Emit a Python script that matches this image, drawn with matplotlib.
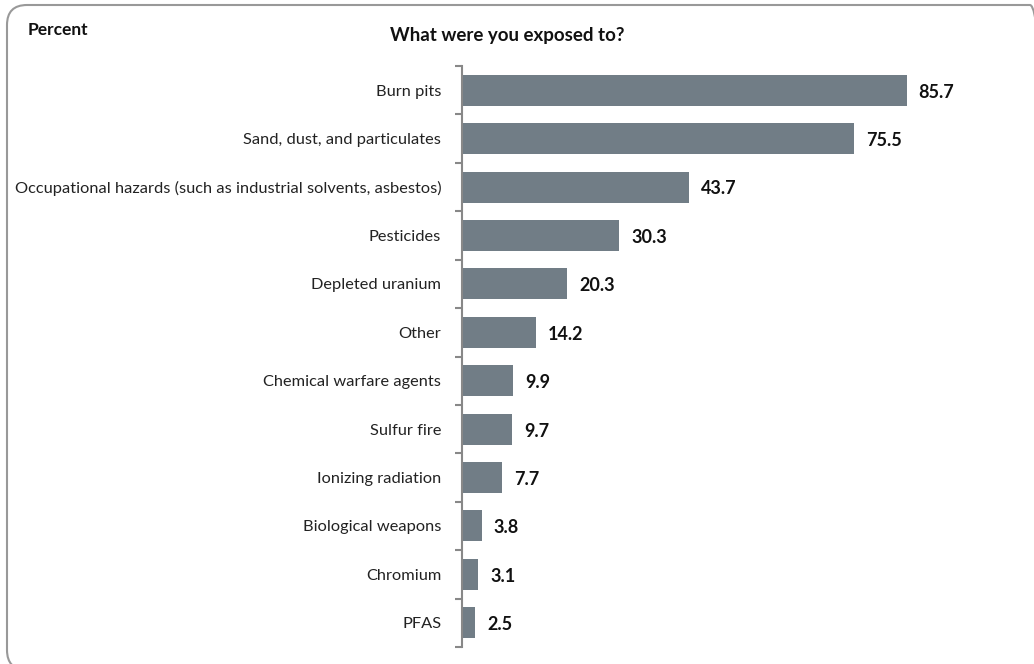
import matplotlib.pyplot as plt
from matplotlib.patches import FancyBboxPatch
from matplotlib.transforms import IdentityTransform
import numpy as np

# Data
categories = ['Burn pits', 'Sand, dust, and particulates',
              'Occupational hazards (such as industrial solvents, asbestos)',
              'Pesticides', 'Depleted uranium', 'Other', 'Chemical warfare agents',
              'Sulfur fire', 'Ionizing radiation', 'Biological weapons',
              'Chromium', 'PFAS']
values = [85.7, 75.5, 43.7, 30.3, 20.3, 14.2, 9.9, 9.7, 7.7, 3.8, 3.1, 2.5]

plt.rcParams['font.family'] = ['Lato', 'DejaVu Sans']

fig = plt.figure(figsize=(10.34, 6.64), dpi=100)
ax = fig.add_axes([462/1034, 1-647/664, (981-462)/1034, (647-66)/664])

y = np.arange(len(categories))
ax.barh(y, values, height=0.64, color='#717d86')
for yi, v in zip(y, values):
    ax.text(v + 2.3, yi + 0.04, f'{v:.1f}', va='center', ha='left',
            fontsize=13, fontweight='bold', color='#111111')

ax.set_xlim(0, 100)
ax.set_ylim(len(categories) - 0.5, -0.5)
ax.set_yticks(y)
ax.set_yticklabels(categories, fontsize=11.8, color='#222222')
ax.set_yticks(np.arange(len(categories) + 1) - 0.5, minor=True)
ax.tick_params(axis='y', which='major', length=0, pad=15)
ax.tick_params(axis='y', which='minor', length=5, color='#888888', width=1.5)
ax.set_xticks([])
for s in ['top', 'right', 'bottom']:
    ax.spines[s].set_visible(False)
ax.spines['left'].set_color('#888888')
ax.spines['left'].set_linewidth(1.5)

fig.text(28/1034, 1-30/664, 'Percent', fontsize=12.5, fontweight='bold',
         va='center', ha='left', color='#111111')
fig.text(507/1034, 1-36/664, 'What were you exposed to?', fontsize=13.5,
         fontweight='bold', va='center', ha='center', color='#111111')

# rounded border, partly outside the image (pixel coords, origin bottom-left)
box = FancyBboxPatch((7, -6), 1043, 664 - 5 + 6,
                     boxstyle='round,pad=0,rounding_size=20',
                     transform=IdentityTransform(), fill=False,
                     edgecolor='#999999', linewidth=1.5)
fig.patches.append(box)

plt.savefig('out.png', dpi=100)
